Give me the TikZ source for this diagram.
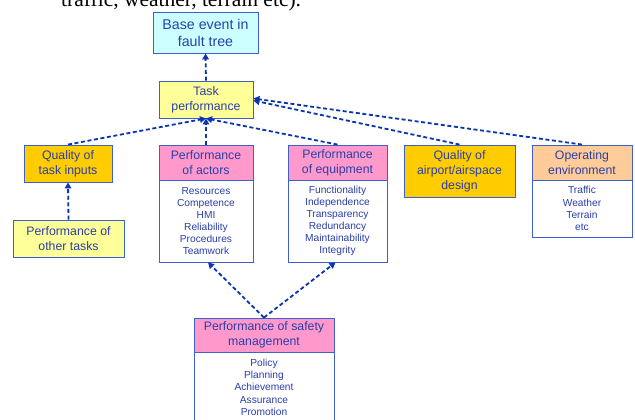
\documentclass[tikz,border=0pt]{standalone}
\usepackage{fontspec}
\setmainfont{Liberation Sans}
\newfontfamily\timesfont{Liberation Serif}
\usetikzlibrary{arrows.meta}
\definecolor{bordblue}{HTML}{3F5FCC}
\definecolor{txtblue}{HTML}{2A3FA8}
\definecolor{arrblue}{HTML}{0A35B0}
\definecolor{cyanfill}{HTML}{CCFFFF}
\definecolor{yellfill}{HTML}{FFFF99}
\definecolor{goldfill}{HTML}{FFCC00}
\definecolor{pinkfill}{HTML}{FF99CC}
\definecolor{peachfill}{HTML}{FFCC99}
\tikzset{
  box/.style={draw=bordblue, line width=0.9pt, text=txtblue, align=center, inner sep=0pt,
    font=\fontsize{12.3}{15}\selectfont},
  listbox/.style={draw=bordblue, line width=0.9pt, fill=white, text=txtblue, align=center, inner sep=0pt,
    font=\fontsize{10.2}{12.1}\selectfont},
  conn/.style={draw=arrblue, line width=1.8pt, dash pattern=on 4pt off 2.6pt,
    -{Triangle[length=6pt,width=6.5pt]}, shorten >=0pt},
}
\begin{document}
\begin{tikzpicture}[x=1pt,y=-1pt]
\clip (0,0) rectangle (635,420);
\fill[white] (0,0) rectangle (635,420);
\node[anchor=base west, inner sep=0pt, font=\timesfont\fontsize{21.5}{24}\selectfont] (toptext) at (61,7) {traffic, weather, terrain etc).};

\node[box, fill=cyanfill, minimum width=105pt, minimum height=41pt, font=\fontsize{14.2}{17}\selectfont] (base) at (205.5,32.5) {Base event in\\fault tree};
\node[box, fill=yellfill, minimum width=94pt, minimum height=37pt] (task) at (206,99.5) {Task\\performance};
\node[box, fill=goldfill, minimum width=88pt, minimum height=37pt] (qti) at (68,163.5) {Quality of\\task inputs};
\node[box, fill=yellfill, minimum width=111pt, minimum height=37pt] (pot) at (68.5,238.5) {Performance of\\other tasks};

\node[box, fill=pinkfill, minimum width=94pt, minimum height=35pt] (actH) at (206,162.5) {Performance\\of actors};
\node[listbox, minimum width=94pt, minimum height=82pt] (actB) at (206,221) {Resources\\Competence\\HMI\\Reliability\\Procedures\\Teamwork};

\node[box, fill=pinkfill, minimum width=99pt, minimum height=35pt] (eqH) at (337.5,162.5) {Performance\\of equipment};
\node[listbox, minimum width=99pt, minimum height=82pt] (eqB) at (337.5,221) {Functionality\\Independence\\Transparency\\Redundancy\\Maintainability\\Integrity};

\node[box, fill=goldfill, minimum width=111pt, minimum height=52pt] (apt) at (459.5,171) {Quality of\\airport/airspace\\design};

\node[box, fill=peachfill, minimum width=100pt, minimum height=35pt] (envH) at (582,162.5) {Operating\\environment};
\node[listbox, minimum width=100pt, minimum height=57pt] (envB) at (582,208.5) {Traffic\\Weather\\Terrain\\etc};

\node[box, fill=pinkfill, minimum width=140pt, minimum height=34pt] (smH) at (264,335) {Performance of safety\\management};
\node[listbox, minimum width=140pt, minimum height=84pt, anchor=north] (smB) at (264,352) {};
\node[anchor=north, inner sep=0pt, align=center, text=txtblue, font=\fontsize{10.2}{12.2}\selectfont] (smL) at (264,359) {Policy\\Planning\\Achievement\\Assurance\\Promotion};

\draw[conn] (task.north) -- (base.south);
\draw[conn] (qti.north) -- (task.south);
\draw[conn] (actH.north) -- (task.south);
\draw[conn] (eqH.north) -- (task.south);
\draw[conn] (apt.north) -- ([yshift=-1pt]task.east);
\draw[conn] (envH.north) -- ([yshift=1pt]task.east);
\draw[conn] (pot.north) -- (qti.south);
\draw[conn] (smH.north) -- ([xshift=2pt]actB.south);
\draw[conn] (smH.north) -- ([xshift=-2pt]eqB.south);
\end{tikzpicture}
\end{document}
